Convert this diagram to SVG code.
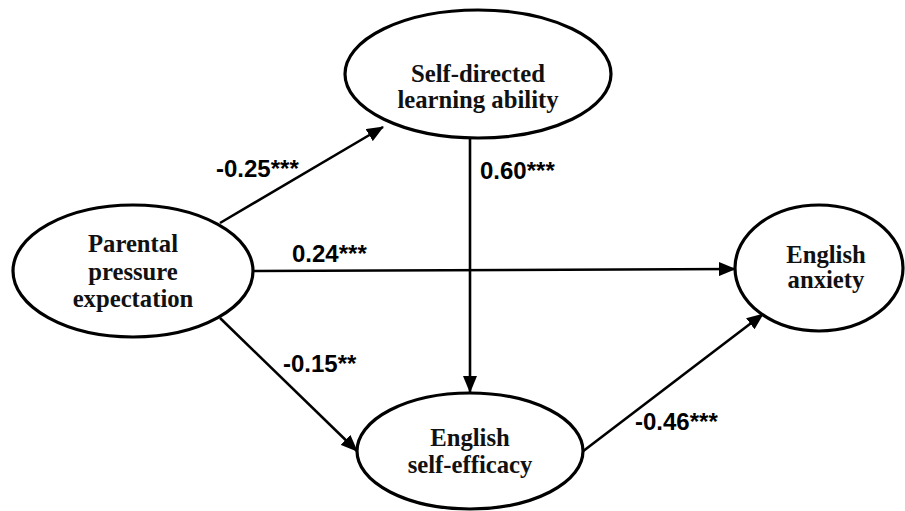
<svg xmlns="http://www.w3.org/2000/svg" width="905" height="511" viewBox="0 0 905 511">
<defs>
<marker id="arr" markerUnits="userSpaceOnUse" markerWidth="18" markerHeight="14" refX="16" refY="7" orient="auto">
<path d="M0,0 L17,7 L0,14 z" fill="#000"/>
</marker>
<style>
.node ellipse{fill:#fff;stroke:#000;stroke-width:3.2}
.node text{font-family:"Liberation Serif","Times New Roman",serif;font-weight:bold;font-size:24.7px;text-anchor:middle;fill:#111}
.edge{stroke:#000;stroke-width:2.6;fill:none;marker-end:url(#arr)}
.lbl{font-family:"Liberation Sans",Arial,sans-serif;font-weight:bold;font-size:24px;fill:#000}
</style>
</defs>
<rect width="905" height="511" fill="#fff"/>
<g id="connectors">
<line class="edge" x1="220" y1="223" x2="383" y2="127"/>
<line class="edge" x1="253" y1="271" x2="735" y2="269"/>
<line class="edge" x1="220" y1="318" x2="357" y2="451"/>
<line class="edge" x1="470" y1="138" x2="470" y2="392"/>
<line class="edge" x1="582" y1="452" x2="763" y2="314"/>
<text class="lbl" x="216" y="177">-0.25***</text>
<text class="lbl" x="292" y="262">0.24***</text>
<text class="lbl" x="283" y="372">-0.15**</text>
<text class="lbl" x="480" y="179">0.60***</text>
<text class="lbl" x="635" y="430">-0.46***</text>
</g>
<g id="parental" class="node">
<ellipse cx="133" cy="271" rx="120" ry="66"/>
<text x="133" y="252">Parental</text>
<text x="133" y="280">pressure</text>
<text x="133" y="307">expectation</text>
</g>
<g id="selfdirected" class="node">
<ellipse cx="478" cy="74" rx="133" ry="64"/>
<text x="478" y="82">Self-directed</text>
<text x="478" y="108">learning ability</text>
</g>
<g id="selfefficacy" class="node">
<ellipse cx="470" cy="451" rx="113" ry="58"/>
<text x="470" y="446">English</text>
<text x="470" y="473">self-efficacy</text>
</g>
<g id="anxiety" class="node">
<ellipse cx="819" cy="268" rx="84" ry="63"/>
<text x="826" y="263">English</text>
<text x="826" y="288">anxiety</text>
</g>
</svg>
